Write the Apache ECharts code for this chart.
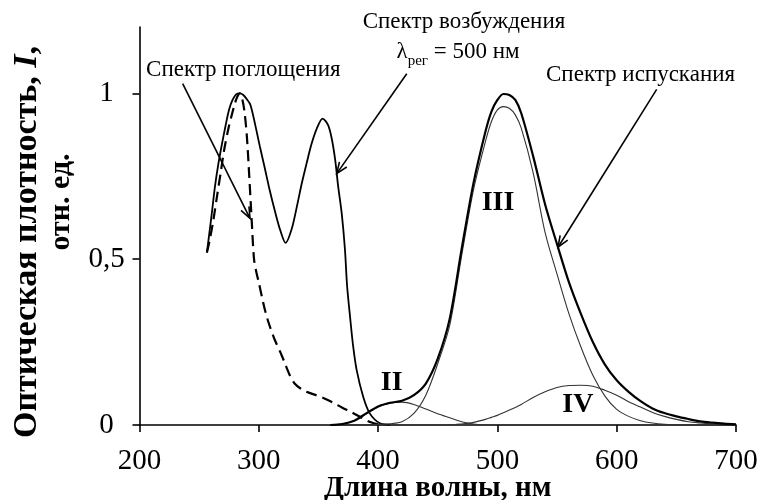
<!DOCTYPE html>
<html>
<head>
<meta charset="utf-8">
<script src="https://cdn.jsdelivr.net/npm/echarts@6/dist/echarts.min.js"></script>
<style>
  html, body { margin: 0; padding: 0; background: #ffffff; }
  #chart { width: 761px; height: 500px; }
</style>
</head>
<body>
<div id="chart"></div>
<script>
// Axis ticks
const xTicks = [200, 300, 400, 500, 600, 700];
const yTicks = [0, 0.5, 1];

// Absorption spectrum (dashed)
const absWl  = [256.5, 259, 262, 265, 268, 271, 274, 277, 280, 282, 284, 286, 288, 290, 292, 294, 296, 298, 300, 303, 306, 309, 313, 318, 322, 326, 330, 335, 340, 348, 355, 362, 370, 378, 386, 394, 402];
const absVal = [0.52, 0.56, 0.62, 0.69, 0.76, 0.83, 0.885, 0.93, 0.97, 0.99, 1.0, 0.985, 0.945, 0.87, 0.75, 0.62, 0.5, 0.46, 0.43, 0.38, 0.335, 0.3, 0.26, 0.22, 0.185, 0.15, 0.125, 0.11, 0.1, 0.09, 0.08, 0.068, 0.052, 0.038, 0.022, 0.008, 0];

// Excitation spectrum, registration at 500 nm
const exWl  = [256.5, 260, 263.3, 266, 269, 272, 275, 278, 281, 284, 287, 290, 293, 297, 301, 305, 309, 313.5, 318, 322.5, 327.5, 332, 336, 340, 344, 348.5, 353.5, 358, 361, 364, 366.5, 369.5, 372.2, 374, 376.5, 379, 382, 387.5, 393, 401.5, 410];
const exVal = [0.52, 0.62, 0.72, 0.785, 0.845, 0.9, 0.95, 0.98, 0.997, 1.0, 0.995, 0.982, 0.965, 0.905, 0.838, 0.775, 0.71, 0.645, 0.587, 0.549, 0.59, 0.66, 0.728, 0.788, 0.845, 0.893, 0.924, 0.905, 0.866, 0.8, 0.72, 0.638, 0.53, 0.42, 0.326, 0.24, 0.166, 0.085, 0.035, 0.005, 0];

// Emission spectrum and its components II, III, IV
const emWl    = [360, 370, 380, 390, 400, 410, 420, 430, 440, 450, 460, 470, 480, 490, 495, 500, 505, 510, 515, 520, 530, 540, 550, 560, 570, 580, 590, 600, 610, 620, 630, 640, 650, 660, 670, 680, 690, 700];
const emTotal = [0, 0.003, 0.013, 0.035, 0.056, 0.067, 0.073, 0.09, 0.125, 0.2, 0.32, 0.53, 0.73, 0.885, 0.945, 0.98, 0.998, 0.995, 0.98, 0.94, 0.81, 0.665, 0.545, 0.43, 0.335, 0.25, 0.183, 0.135, 0.1, 0.072, 0.05, 0.036, 0.026, 0.018, 0.011, 0.007, 0.004, 0.002];
const emII    = [0, 0.003, 0.013, 0.033, 0.054, 0.066, 0.069, 0.062, 0.048, 0.034, 0.022, 0.01, 0.003, 0, 0, 0, 0, 0, 0, 0, 0, 0, 0, 0, 0, 0, 0, 0, 0, 0, 0, 0, 0, 0, 0, 0, 0, 0];
const emIII   = [0, 0, 0, 0, 0.002, 0.004, 0.01, 0.035, 0.09, 0.185, 0.3, 0.51, 0.71, 0.855, 0.915, 0.95, 0.96, 0.955, 0.935, 0.895, 0.76, 0.58, 0.455, 0.335, 0.235, 0.15, 0.088, 0.047, 0.026, 0.013, 0.006, 0.002, 0, 0, 0, 0, 0, 0];
const emIV    = [0, 0, 0, 0, 0, 0, 0, 0, 0, 0, 0, 0.003, 0.008, 0.017, 0.023, 0.029, 0.037, 0.045, 0.053, 0.062, 0.083, 0.1, 0.113, 0.119, 0.12, 0.117, 0.105, 0.09, 0.07, 0.054, 0.038, 0.026, 0.017, 0.01, 0.006, 0.003, 0.001, 0];

const SERIF = '"Liberation Serif", "Times New Roman", serif';

const pairs = (xs, ys) => xs.map((x, i) => [x, ys[i]]);

const chart = echarts.init(document.getElementById('chart'), null, { renderer: 'canvas' });

function line(name, xs, ys, width, color, type, smooth) {
  return {
    name: name,
    type: 'line',
    data: pairs(xs, ys),
    smooth: smooth,
    symbol: 'none',
    silent: true,
    lineStyle: { color: color, width: width, type: type },
    z: 3
  };
}

chart.setOption({
  animation: false,
  backgroundColor: '#ffffff',
  grid: { left: 139.5, right: 25, top: 27, bottom: 75, containLabel: false, outerBoundsMode: 'none' },
  xAxis: {
    type: 'value',
    min: 200, max: 700, interval: 100,
    name: 'Длина волны, нм',
    nameLocation: 'middle',
    nameGap: 49,
    nameMoveOverlap: false,
    nameTextStyle: { fontFamily: SERIF, fontWeight: 'bold', fontSize: 29, color: '#000' },
    axisLine: { show: true, lineStyle: { color: '#000', width: 1.6 } },
    axisTick: { show: true, inside: false, length: 7, lineStyle: { color: '#000', width: 1.6 }, customValues: xTicks },
    axisLabel: { fontFamily: SERIF, fontSize: 29, color: '#000', margin: 22, customValues: xTicks },
    splitLine: { show: false }
  },
  yAxis: {
    type: 'value',
    min: 0, max: 1.2,
    axisLine: { show: true, lineStyle: { color: '#000', width: 1.6 } },
    axisTick: { show: true, inside: false, length: 7, lineStyle: { color: '#000', width: 1.6 }, customValues: yTicks },
    axisLabel: {
      fontFamily: SERIF, fontSize: 29, color: '#000', margin: 33, align: 'center',
      customValues: yTicks,
      formatter: v => String(v).replace('.', ',')
    },
    splitLine: { show: false }
  },
  series: [
    line('Спектр поглощения', absWl, absVal, 2.2, '#000', [11, 6], 0.3),
    line('Спектр возбуждения', exWl, exVal, 1.8, '#000', 'solid', 0.3),
    line('II', emWl, emII, 1.1, '#333', 'solid', 0.3),
    line('III', emWl, emIII, 1.1, '#333', 'solid', 0.3),
    line('IV', emWl, emIV, 1.1, '#333', 'solid', 0.3),
    line('Спектр испускания', emWl, emTotal, 2.2, '#000', 'solid', 0.3)
  ]
});

// Annotations placed in data coordinates
const captions = [
  { text: 'Спектр поглощения',  at: [287, 1.072], size: 23, weight: 'normal' },
  { text: 'Спектр возбуждения', at: [472, 1.214], size: 23, weight: 'normal' },
  { text: 'Спектр испускания',  at: [620, 1.054], size: 23, weight: 'normal' },
  { text: 'II',  at: [411.4, 0.127], size: 28, weight: 'bold' },
  { text: 'III', at: [500.5, 0.669], size: 28, weight: 'bold' },
  { text: 'IV',  at: [567.5, 0.06],  size: 28, weight: 'bold' }
];
const arrows = [
  [[236.2, 1.029], [292.6, 0.623]],
  [[424, 1.059], [365.3, 0.758]],
  [[633.5, 1.012], [550.8, 0.536]]
];
const lambdaAt = [467, 1.118];

function px(p) { return chart.convertToPixel({ gridIndex: 0 }, p); }

const elements = [];
captions.forEach(c => {
  const p = px(c.at);
  elements.push({
    type: 'text', x: p[0], y: p[1], z: 10,
    style: { text: c.text, fontFamily: SERIF, fontSize: c.size, fontWeight: c.weight, fill: '#000', align: 'center', verticalAlign: 'middle' }
  });
});

// λ with subscript
{
  const p = px(lambdaAt);
  elements.push({
    type: 'text', x: p[0], y: p[1], z: 10,
    style: {
      text: '{a|λ}{s|рег}{a| = 500 нм}',
      align: 'center', verticalAlign: 'middle',
      rich: {
        a: { fontFamily: SERIF, fontSize: 23, fill: '#000', lineHeight: 28, verticalAlign: 'top' },
        s: { fontFamily: SERIF, fontSize: 15, fill: '#000', lineHeight: 28, verticalAlign: 'bottom', padding: [11, 0, 0, 0] }
      }
    }
  });
}

arrows.forEach(a => {
  const s = px(a[0]), e = px(a[1]);
  const ang = Math.atan2(e[1] - s[1], e[0] - s[0]);
  const L = 12, h = 0.38;
  const l1 = [e[0] - L * Math.cos(ang - h), e[1] - L * Math.sin(ang - h)];
  const l2 = [e[0] - L * Math.cos(ang + h), e[1] - L * Math.sin(ang + h)];
  elements.push({ type: 'polyline', z: 10, shape: { points: [s, e] }, style: { stroke: '#000', lineWidth: 1.6, fill: null } });
  elements.push({ type: 'polyline', z: 10, shape: { points: [l1, e, l2] }, style: { stroke: '#000', lineWidth: 1.6, fill: null } });
});

// Y axis title, two rotated lines
elements.push({
  type: 'text', x: 27, y: 242, rotation: Math.PI / 2, z: 10,
  style: {
    text: '{b|Оптическая плотность, }{i|I}{b|,}',
    align: 'center', verticalAlign: 'middle',
    rich: {
      b: { fontFamily: SERIF, fontSize: 34, fontWeight: 'bold', fill: '#000' },
      i: { fontFamily: SERIF, fontSize: 34, fontWeight: 'bold', fontStyle: 'italic', fill: '#000' }
    }
  }
});
elements.push({
  type: 'text', x: 61, y: 202, rotation: Math.PI / 2, z: 10,
  style: { text: 'отн. ед.', fontFamily: SERIF, fontSize: 30, fontWeight: 'bold', fill: '#000', align: 'center', verticalAlign: 'middle' }
});

chart.setOption({ graphic: { elements: elements } });
</script>
</body>
</html>
